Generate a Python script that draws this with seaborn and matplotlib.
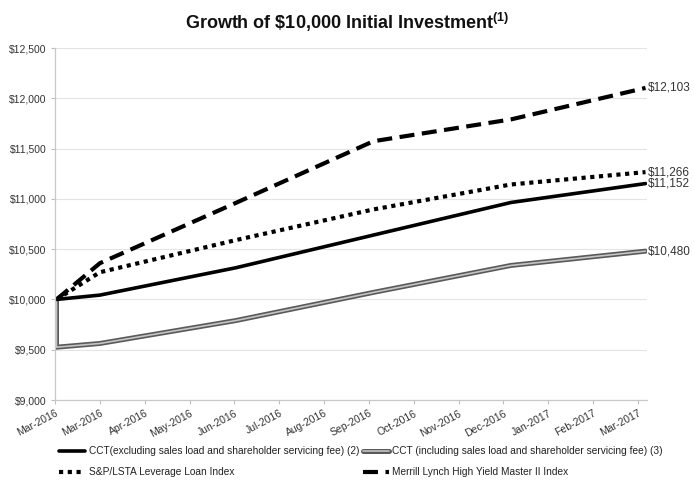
import numpy as np
import pandas as pd
import matplotlib
matplotlib.use("Agg")
import matplotlib.pyplot as plt
import seaborn as sns
from matplotlib.lines import Line2D
from matplotlib.legend_handler import HandlerTuple

sns.set_style("white")
plt.rcParams['font.family'] = ['Liberation Sans', 'DejaVu Sans']
plt.rcParams['mathtext.fontset'] = 'custom'
plt.rcParams['mathtext.rm'] = 'Liberation Sans'
plt.rcParams['mathtext.bf'] = 'Liberation Sans:bold'

# values
dates = pd.to_datetime(['2016-03-02', '2016-03-31', '2016-06-30',
                        '2016-09-30', '2016-12-31', '2017-03-31'])
cct_ex = [10000, 10043, 10315, 10640, 10964, 11152]
cct_inc_dates = dates[:1].append(dates)
cct_inc = [10000, 9525, 9562, 9790, 10070, 10338, 10480]
sp_lsta = [10000, 10270, 10590, 10895, 11143, 11266]
merrill = [10000, 10360, 10960, 11573, 11790, 12103]

names = ['CCT(excluding sales load and shareholder servicing fee) (2)',
         'CCT (including sales load and shareholder servicing fee) (3)',
         'S&P/LSTA Leverage Loan Index',
         'Merrill Lynch High Yield Master II Index']

tick_dates = pd.date_range('2016-03-01', periods=14, freq='30D')
tick_labels = [d.strftime('%b-%Y') for d in tick_dates]

fig = plt.figure(figsize=(6.94, 5.03), dpi=100)
ax = fig.add_axes([55/694, 1-400/503, 592/694, 352/503])

ax.yaxis.grid(True, color='#e4e4e4', lw=0.8)
ax.set_axisbelow(True)

kw = dict(ax=ax, estimator=None, sort=False, legend=False)
sns.lineplot(x=cct_inc_dates, y=cct_inc, color='#5a5a5a', lw=3.6,
             solid_joinstyle='miter', **kw)
sns.lineplot(x=cct_inc_dates, y=cct_inc, color='#c4c4c4', lw=1.2, **kw)
sns.lineplot(x=dates, y=cct_ex, color='black', lw=2.6, **kw)
sns.lineplot(x=dates, y=sp_lsta, color='black', lw=3.0,
             linestyle=(0, (1, 1.1)), **kw)
sns.lineplot(x=dates, y=merrill, color='black', lw=3.0,
             linestyle=(0, (3.6, 1.8)), **kw)
ax.set_xlabel('')
ax.set_ylabel('')

for v in [merrill[-1], sp_lsta[-1], cct_ex[-1], cct_inc[-1]]:
    ax.annotate(f"${v:,}", xy=(dates[-1], v), xytext=(1.5, 0),
                textcoords='offset points', va='center', ha='left',
                fontsize=8.5, color='#333333', annotation_clip=False)

ax.set_xlim(pd.Timestamp('2016-03-01'), pd.Timestamp('2017-04-01'))
ax.set_ylim(9000, 12500)
yt = list(range(9000, 12501, 500))
ax.set_yticks(yt)
ax.set_yticklabels([f"${v:,}" for v in yt], fontsize=7.5, color='#333333')
ax.set_xticks(tick_dates)
ax.set_xticklabels(tick_labels, rotation=28, ha='right',
                   rotation_mode='anchor', fontsize=7.5, color='#333333')
ax.tick_params(axis='x', length=3, color='#bfbfbf', pad=3, direction='out')
ax.tick_params(axis='y', length=3, color='#bfbfbf', pad=3, direction='out')
ax.tick_params(bottom=True, left=True)

for s in ['top', 'right']:
    ax.spines[s].set_visible(False)
for s in ['left', 'bottom']:
    ax.spines[s].set_color('#c8c8c8')
    ax.spines[s].set_linewidth(0.9)

fig.text(0.5, 1-22/503,
         r"Growth of \$10,000 Initial Investment$^{\mathbf{(1)}}$",
         ha='center', va='center', fontsize=13, fontweight='bold',
         color='#111111')

h_ex = Line2D([], [], color='black', lw=2.6)
h_inc = (Line2D([], [], color='#5a5a5a', lw=3.6),
         Line2D([], [], color='#c4c4c4', lw=1.2))
h_sp = Line2D([], [], color='black', lw=3.0, linestyle=(0, (1, 1.1)))
h_ml = Line2D([], [], color='black', lw=3.0, linestyle=(0, (3.6, 1.8)))
# matplotlib fills legend columns first, so order handles to get rows right
fig.legend([h_ex, h_sp, h_inc, h_ml],
           [names[0], names[2], names[1], names[3]],
           ncol=2, loc='upper left',
           bbox_to_anchor=(50/694, 1-437/503), frameon=False, fontsize=7.3,
           handlelength=2.6, handletextpad=0.3, columnspacing=0.4,
           labelspacing=1.1, labelcolor='#222222',
           handler_map={tuple: HandlerTuple(ndivide=1, pad=0)})

fig.savefig('out.png', dpi=100)
